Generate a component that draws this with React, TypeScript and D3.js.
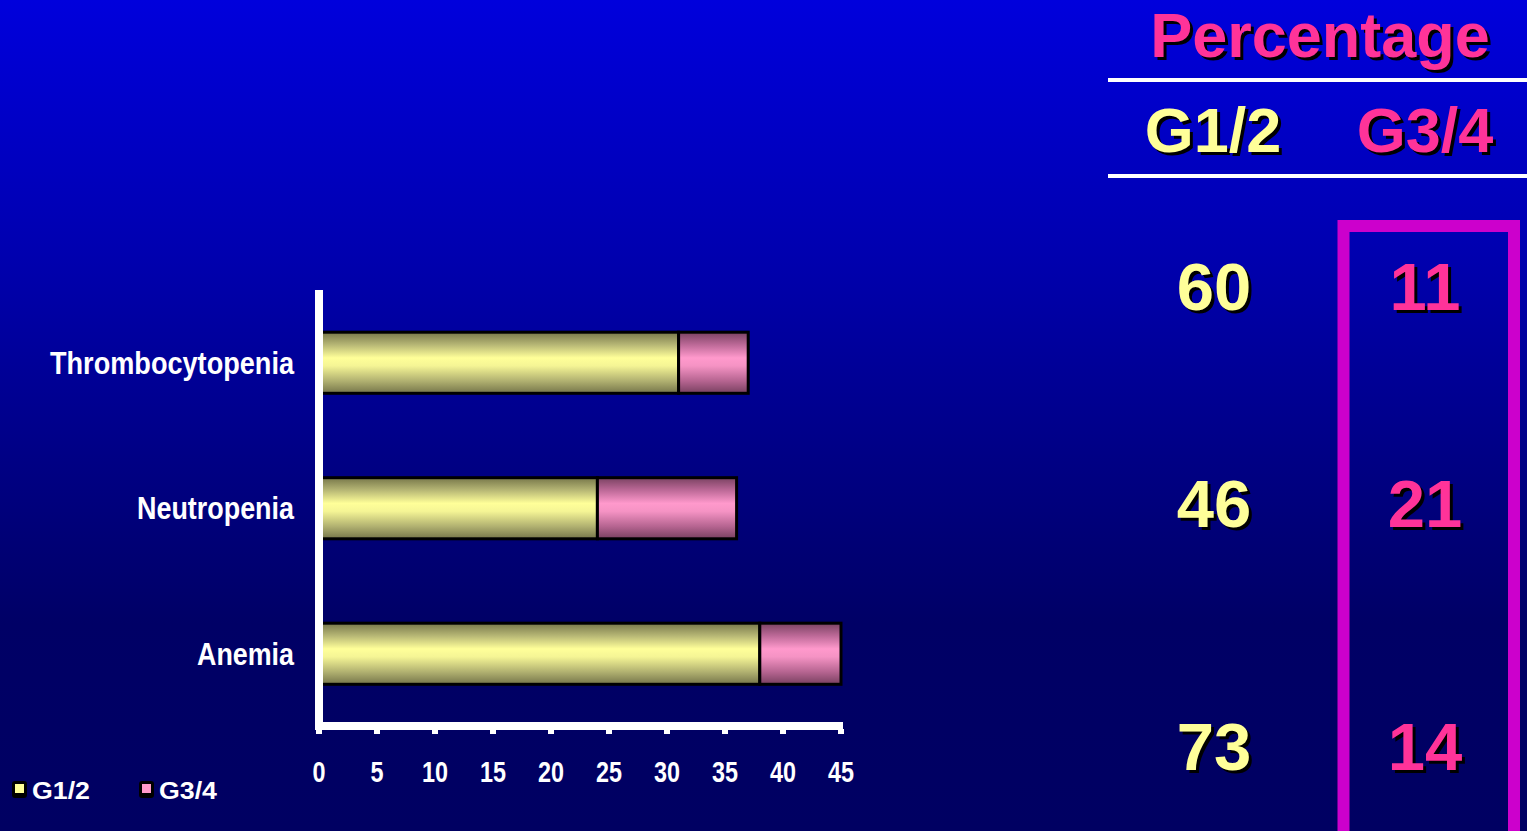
import React from "react";
import * as d3 from "d3";

const categories = ["Thrombocytopenia", "Neutropenia", "Anemia"];
const g12Values = [31, 24, 38];
const g34Values = [6, 12, 7];
const xTicks = [0, 5, 10, 15, 20, 25, 30, 35, 40, 45];
const seriesNames = ["G1/2", "G3/4"];
const tableG12 = [60, 46, 73];
const tableG34 = [11, 21, 14];

const W = 1527;
const H = 831;
const FONT = "'Liberation Sans', Arial, sans-serif";

const YELLOW = "#FFFF99";
const PINK = "#FF3399";

function Shadowed({ x, y, text, fill, size, anchor = "middle", dx = 3, dy = 3 }: any) {
  return (
    <g fontFamily={FONT} fontWeight="bold" fontSize={size} textAnchor={anchor}>
      <text x={x + dx} y={y + dy} fill="#000">{text}</text>
      <text x={x} y={y} fill={fill}>{text}</text>
    </g>
  );
}

export default function App() {
  const x = d3.scaleLinear().domain([0, 45]).range([319, 841]);
  const y = d3
    .scaleBand<string>()
    .domain(categories)
    .range([290, 726.5])
    .paddingInner(0.58)
    .paddingOuter(0.29);
  const bw = y.bandwidth();

  const rowY = d3.scalePoint<number>().domain([0, 1, 2]).range([310, 770]);
  const rowBaselines = [310, 527, 770];

  const labelWidths: Record<string, number> = {
    Thrombocytopenia: 244,
    Neutropenia: 157,
    Anemia: 97,
  };

  return (
    <svg
      width={W}
      height={H}
      style={{ position: "fixed", left: 0, top: 0, display: "block" }}
    >
      <defs>
        <linearGradient id="bg" x1="0" y1="0" x2="0" y2="1">
          <stop offset="0" stopColor="#0000dc" />
          <stop offset="0.3" stopColor="#0000b0" />
          <stop offset="0.55" stopColor="#000085" />
          <stop offset="0.75" stopColor="#000066" />
          <stop offset="1" stopColor="#000062" />
        </linearGradient>
        <linearGradient id="gY" x1="0" y1="0" x2="0" y2="1">
          <stop offset="0" stopColor="#77774a" />
          <stop offset="0.2" stopColor="#b5b574" />
          <stop offset="0.42" stopColor="#ffff99" />
          <stop offset="0.55" stopColor="#f5f595" />
          <stop offset="0.8" stopColor="#b0b070" />
          <stop offset="1" stopColor="#75754a" />
        </linearGradient>
        <linearGradient id="gP" x1="0" y1="0" x2="0" y2="1">
          <stop offset="0" stopColor="#7a4262" />
          <stop offset="0.2" stopColor="#bb6896" />
          <stop offset="0.42" stopColor="#ff99cc" />
          <stop offset="0.55" stopColor="#f593c4" />
          <stop offset="0.8" stopColor="#b56490" />
          <stop offset="1" stopColor="#784060" />
        </linearGradient>
      </defs>
      <rect x={0} y={0} width={W} height={H} fill="url(#bg)" />

      {/* bars */}
      {categories.map((c, i) => {
        const y0 = y(c)!;
        const a = g12Values[i];
        const b = g34Values[i];
        return (
          <g key={c}>
            <rect
              x={x(0)}
              y={y0}
              width={x(a) - x(0)}
              height={bw}
              fill="url(#gY)"
              stroke="#000"
              strokeWidth={3}
            />
            <rect
              x={x(a)}
              y={y0}
              width={x(a + b) - x(a)}
              height={bw}
              fill="url(#gP)"
              stroke="#000"
              strokeWidth={3}
            />
          </g>
        );
      })}

      {/* axes */}
      <rect x={315} y={290} width={8} height={440} fill="#fff" />
      <rect x={315} y={722} width={x(45) - 315 + 2} height={8} fill="#fff" />
      {xTicks.map((t) => (
        <g key={t}>
          <rect x={x(t) - 3} y={729} width={6} height={5} fill="#fff" />
          <text
            x={x(t)}
            y={782}
            fill="#fff"
            fontFamily={FONT}
            fontWeight="bold"
            fontSize={29}
            textAnchor="middle"
            textLength={String(t).length * 13}
            lengthAdjust="spacingAndGlyphs"
          >
            {t}
          </text>
        </g>
      ))}

      {/* category labels */}
      {categories.map((c) => (
        <text
          key={c}
          x={294 - labelWidths[c]}
          y={y(c)! + bw / 2 + 11}
          fill="#fff"
          fontFamily={FONT}
          fontWeight="bold"
          fontSize={31}
          textLength={labelWidths[c]}
          lengthAdjust="spacingAndGlyphs"
        >
          {c}
        </text>
      ))}

      {/* legend */}
      {seriesNames.map((s, i) => {
        const lx = i === 0 ? 12 : 139;
        return (
          <g key={s}>
            <rect x={lx} y={781} width={15} height={17} rx={3} fill="#000" />
            <rect
              x={lx + 3}
              y={784}
              width={9}
              height={9}
              fill={i === 0 ? "#ffff99" : "#ff99cc"}
            />
            <text
              x={lx + 20}
              y={799}
              fill="#fff"
              fontFamily={FONT}
              fontWeight="bold"
              fontSize={23}
              textLength={58}
              lengthAdjust="spacingAndGlyphs"
            >
              {s}
            </text>
          </g>
        );
      })}

      {/* right table */}
      <Shadowed x={1320} y={57} text="Percentage" fill={PINK} size={63} />
      <rect x={1108} y={78} width={W - 1108} height={4} fill="#fff" />
      <Shadowed x={1213} y={152} text={seriesNames[0]} fill={YELLOW} size={63} />
      <Shadowed x={1425} y={152} text={seriesNames[1]} fill={PINK} size={63} />
      <rect x={1108} y={174} width={W - 1108} height={4} fill="#fff" />

      <rect
        x={1343.5}
        y={226}
        width={170.5}
        height={620}
        fill="none"
        stroke="#cc00cc"
        strokeWidth={12}
      />

      {tableG12.map((v, i) => (
        <Shadowed
          key={"a" + i}
          x={1214}
          y={rowBaselines[i] ?? rowY(i)}
          text={v}
          fill={YELLOW}
          size={67}
        />
      ))}
      {tableG34.map((v, i) => (
        <Shadowed
          key={"b" + i}
          x={1425}
          y={rowBaselines[i] ?? rowY(i)}
          text={v}
          fill={PINK}
          size={67}
        />
      ))}
    </svg>
  );
}
